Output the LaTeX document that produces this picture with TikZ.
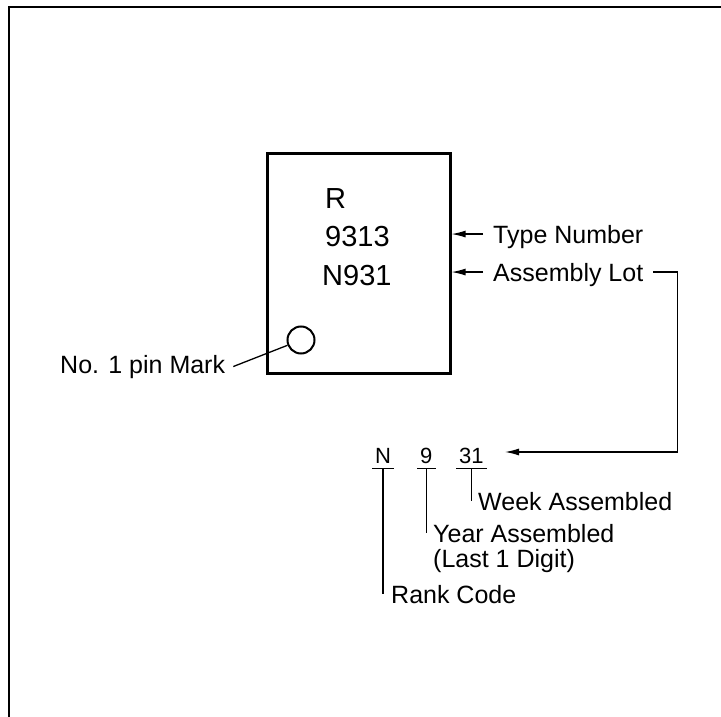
\documentclass[tikz,border=0pt]{standalone}
\usepackage{fontspec}
\setmainfont{Liberation Sans}
\usetikzlibrary{arrows.meta,calc}
\tikzset{
  lbl/.style={inner sep=0pt, font=\fontsize{25}{25}\selectfont},
  chiptxt/.style={inner sep=0pt, font=\fontsize{29}{29}\selectfont},
  code/.style={inner xsep=3pt, inner ysep=0pt, text depth=5pt, font=\fontsize{22}{22}\selectfont},
  arr/.style={-{Latex[length=14pt,width=7pt]}, line width=1.3pt},
  lead/.style={line width=1.3pt},
}
\begin{document}
\begin{tikzpicture}[x=1pt,y=-1pt]
  \useasboundingbox (0,0) rectangle (721,717);
  % frame
  \draw[line width=2pt] (721,7) -- (8.5,7) -- (8.5,717);
  % package
  \node[draw, line width=3pt, minimum width=183pt, minimum height=220pt, inner sep=0pt] (chip) at (358.5,263) {};
  \node[chiptxt, anchor=base west] (rtxt) at (325,208) {R};
  \node[chiptxt, anchor=base west] (typetxt) at (325,246) {9313};
  \node[chiptxt, anchor=base west] (lottxt) at (322,285) {N931};
  \node[draw, circle, line width=2pt, minimum size=27pt, inner sep=0pt] (pin) at (301,340) {};
  % labels
  \node[lbl, anchor=base west] (pinlbl) at (60,373) {No. 1 pin Mark};
  \node[lbl, anchor=base west] (tn) at (493,243) {Type Number};
  \node[lbl, anchor=base west] (al) at (493,281) {Assembly Lot};
  \draw[lead] ([xshift=8pt]pinlbl.east) -- (pin);
  \draw[arr] ([xshift=-10pt,yshift=2.5pt]tn.west) -- ([yshift=2.5pt]tn.west -| chip.east);
  \draw[arr] ([xshift=-10pt,yshift=2.5pt]al.west) -- ([yshift=2.5pt]al.west -| chip.east);
  % lot code
  \coordinate (lottip) at (505,452);
  \draw[arr] ([xshift=10pt,yshift=2.5pt]al.east) -- ++(24,0) |- (lottip);
  \node[code, anchor=base west] (rk) at (372,463) {N};
  \node[code, anchor=base west] (yr) at (417,463) {9};
  \node[code, anchor=base west] (wk) at (456,463) {31};
  \foreach \c in {rk,yr,wk}
    \draw[lead] (\c.south west) -- (\c.south east);
  \node[lbl, anchor=base west] (wkl) at (478,510) {Week Assembled};
  \node[lbl, anchor=north west, align=left] (yal) at (433,524) {Year Assembled\\(Last 1 Digit)};
  \node[lbl, anchor=base west] (rcl) at (391,603) {Rank Code};
  \coordinate (yrend) at ($(yal.north west)+(0,9)$);
  \draw[lead] (wk.south) -- (wk.south |- wkl.west);
  \draw[lead] (yr.south) -- (yr.south |- yrend);
  \draw[lead] (rk.south) -- (rk.south |- rcl.west);
\end{tikzpicture}
\end{document}
